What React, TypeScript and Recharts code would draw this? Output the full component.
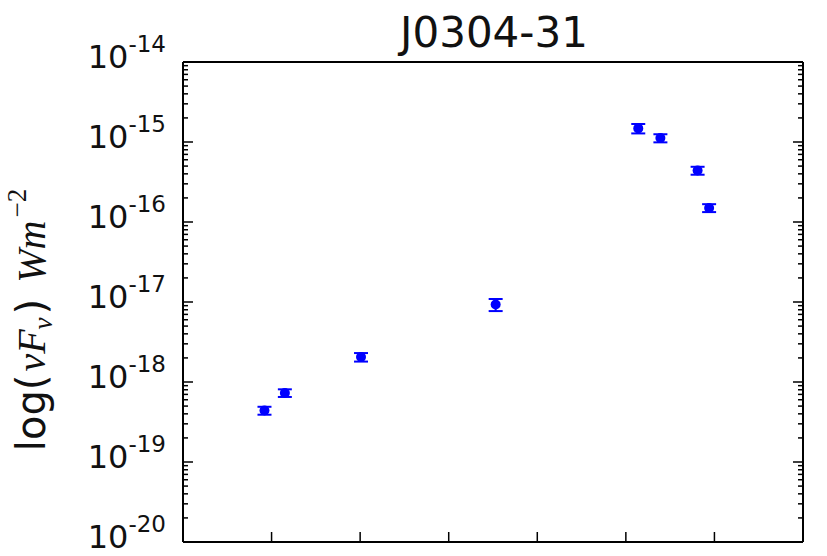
import { ScatterChart, Scatter, XAxis, YAxis, ErrorBar } from 'recharts'

// ─── Data ──────────────────────────────
const xValues = [0.92, 1.15, 2.01, 3.53, 5.14, 5.39, 5.81, 5.94]
const fluxValues = [4.4e-19, 7.3e-19, 2.05e-18, 9.3e-18, 1.48e-15, 1.12e-15, 4.4e-16, 1.5e-16]
const fluxErrors = [0.5e-19, 0.8e-19, 0.25e-18, 1.6e-18, 0.2e-15, 0.13e-15, 0.5e-16, 0.17e-16]
const xTicks = [1, 2, 3, 4, 5, 6]
const decades = [-20, -19, -18, -17, -16, -15, -14]
const minorMultipliers = [2, 3, 4, 5, 6, 7, 8, 9]

const points = xValues.map((x, i) => ({ x, flux: fluxValues[i], err: fluxErrors[i] }))

const yTicks: number[] = []
decades.forEach((d, i) => {
  yTicks.push(Math.pow(10, d))
  if (i < decades.length - 1) minorMultipliers.forEach((m) => yTicks.push(m * Math.pow(10, d)))
})

const BLUE = '#0000ff'
const FONT = '"DejaVu Sans", sans-serif'
const MATH = '"Liberation Serif", serif'

const W = 827
const H = 556
// axes get 1px of room each so Recharts still draws them
const margin = { top: 61, right: 23, bottom: 13, left: 182 }

const isMajor = (v: number) => {
  const l = Math.log10(v)
  return Math.abs(l - Math.round(l)) < 1e-6
}

// left axis: inward ticks + 10^n labels
function LeftTick(props: any) {
  const { x, y, payload } = props
  const major = isMajor(payload.value)
  const len = major ? 10 : 5
  const exp = Math.round(Math.log10(payload.value))
  return (
    <g>
      <line x1={x} y1={y} x2={x + len} y2={y} stroke="#000" strokeWidth={1.5} />
      {major && (
        <text x={x - 17} y={y + 6} textAnchor="end" fontFamily={FONT} fill="#111">
          <tspan fontSize={32}>10</tspan>
          <tspan fontSize={23} dy={-16}>{`-${Math.abs(exp)}`}</tspan>
        </text>
      )}
    </g>
  )
}

function RightTick(props: any) {
  const { x, y, payload } = props
  const len = isMajor(payload.value) ? 10 : 5
  return <line x1={x - len} y1={y} x2={x} y2={y} stroke="#000" strokeWidth={1.5} />
}

function BottomTick(props: any) {
  const { x, y } = props
  return <line x1={x} y1={y - 10} x2={x} y2={y} stroke="#000" strokeWidth={1.5} />
}

function TopTick(props: any) {
  const { x, y } = props
  return <line x1={x} y1={y} x2={x} y2={y + 10} stroke="#000" strokeWidth={1.5} />
}

const Dot = (p: any) => <circle cx={p.cx} cy={p.cy} r={5} fill={BLUE} />

const axisLine = { stroke: '#000', strokeWidth: 2 }

export default function App() {
  return (
    <div style={{ position: 'absolute', left: 0, top: 0, width: W, height: H, background: '#fff' }}>
      <ScatterChart width={W} height={H} margin={margin}>
        <XAxis
          xAxisId="bottom"
          dataKey="x"
          type="number"
          domain={[0, 7]}
          ticks={xTicks}
          interval={0}
          height={1}
          tickSize={0}
          tickMargin={0}
          axisLine={axisLine}
          tickLine={false}
          tick={<BottomTick />}
          allowDataOverflow
        />
        <XAxis
          xAxisId="top"
          orientation="top"
          type="number"
          domain={[0, 7]}
          ticks={xTicks}
          interval={0}
          height={1}
          tickSize={0}
          tickMargin={0}
          axisLine={axisLine}
          tickLine={false}
          tick={<TopTick />}
          allowDataOverflow
        />
        <YAxis
          yAxisId="left"
          dataKey="flux"
          type="number"
          scale="log"
          domain={[1e-20, 1e-14]}
          ticks={yTicks}
          interval={0}
          width={1}
          tickSize={0}
          tickMargin={0}
          axisLine={axisLine}
          tickLine={false}
          tick={<LeftTick />}
          allowDataOverflow
        />
        <YAxis
          yAxisId="right"
          orientation="right"
          type="number"
          scale="log"
          domain={[1e-20, 1e-14]}
          ticks={yTicks}
          interval={0}
          width={1}
          tickSize={0}
          tickMargin={0}
          axisLine={axisLine}
          tickLine={false}
          tick={<RightTick />}
          allowDataOverflow
        />
        <Scatter
          data={points}
          xAxisId="bottom"
          yAxisId="left"
          fill={BLUE}
          shape={Dot}
          isAnimationActive={false}
        >
          <ErrorBar dataKey="err" direction="y" width={7} stroke={BLUE} strokeWidth={2} isAnimationActive={false} />
        </Scatter>
      </ScatterChart>
      <svg width={W} height={H} style={{ position: 'absolute', left: 0, top: 0, pointerEvents: 'none' }}>
        <text x={494} y={47} textAnchor="middle" fontFamily={FONT} fontSize={42} fill="#111">
          J0304-31
        </text>
        <text transform="rotate(-90)" x={-320} y={45} textAnchor="middle" fontSize={40} fill="#111">
          <tspan fontFamily={FONT}>log(</tspan>
          <tspan fontFamily={MATH} fontStyle="italic" dx={3}>νF</tspan>
          <tspan fontFamily={MATH} fontStyle="italic" fontSize={27} dy={7}>ν</tspan>
          <tspan fontFamily={FONT} dy={-7} dx={3}>)</tspan>
          <tspan fontFamily={MATH} fontStyle="italic" dx={16}>Wm</tspan>
          <tspan fontFamily={MATH} fontSize={27} dy={-19} dx={3}>−2</tspan>
        </text>
      </svg>
    </div>
  )
}
